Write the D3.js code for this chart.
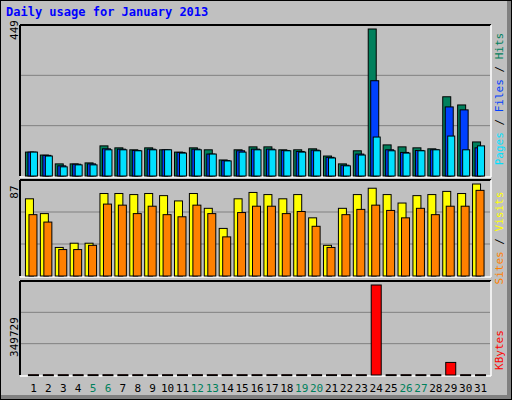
<!DOCTYPE html>
<html><head><meta charset="utf-8">
<script src="https://cdn.jsdelivr.net/npm/d3@7"></script>
<style>body{margin:0;background:#fff}svg{display:block}text{font-family:"DejaVu Sans Mono",monospace}</style>
</head><body>
<script>
const days = d3.range(1,32);
const weekend = [5,6,12,13,19,20,26,27];
const hits  = [73,64,37,37,40,92,86,80,86,80,73,86,80,49,80,89,89,80,80,83,61,37,77,449,95,89,86,83,242,217,104];
const files = [73,63,31,36,37,83,82,78,82,80,72,82,67,47,77,82,82,78,75,79,57,33,67,291,80,72,78,80,211,202,86];
const pages = [73,61,28,34,34,80,80,77,80,80,70,80,67,46,73,80,80,77,73,77,55,31,64,119,77,70,77,80,122,80,92];
const visits= [73,59,27,31,31,78,78,77,78,76,71,78,64,45,73,79,77,73,77,55,29,64,77,83,77,69,76,77,80,78,87];
const sites = [58,51,25,25,29,68,67,59,66,58,56,67,59,37,60,66,66,59,61,47,27,58,63,67,62,55,64,58,66,66,81];
const kbytes= [1200,1200,1200,1200,1200,1200,1200,1200,1200,1200,1200,1200,1200,1200,1200,1200,1200,1200,1200,1200,1200,1200,1200,349729,1200,1200,1200,1200,48860,1200,1200];
const maxLabels = ["449","87","349729"];

const W=512,H=400;
const svg=d3.select("body").append("svg").attr("width",W).attr("height",H);
svg.append("rect").attr("width",W).attr("height",H).attr("fill","#c0c0c0");
svg.append("rect").attr("x",507).attr("y",0).attr("width",5).attr("height",H).attr("fill","#808080");
svg.append("rect").attr("x",0).attr("y",395).attr("width",W).attr("height",5).attr("fill","#808080");
svg.append("rect").attr("x",0.5).attr("y",0.5).attr("width",W-1).attr("height",H-1).attr("fill","none").attr("stroke","#000");
svg.append("text").attr("x",6).attr("y",16).attr("fill","#0000ff").attr("font-weight","bold").attr("font-size",12).text("Daily usage for January 2013");

const x=d3.scaleBand().domain(days).range([26,488]);
const cx=d=>x(d)+x.bandwidth()/2;

function panel(y0,y1,max){
  svg.append("line").attr("x1",20).attr("x2",491).attr("y1",y0).attr("y2",y0).attr("stroke","#000").attr("stroke-width",2);
  svg.append("line").attr("x1",20).attr("x2",20).attr("y1",y0).attr("y2",y1).attr("stroke","#000").attr("stroke-width",2);
  svg.append("line").attr("x1",20).attr("x2",491).attr("y1",y1+1).attr("y2",y1+1).attr("stroke","#fff").attr("stroke-width",1.5);
  svg.append("line").attr("x1",491).attr("x2",491).attr("y1",y0).attr("y2",y1+1).attr("stroke","#fff").attr("stroke-width",1.5);
  const y=d3.scaleLinear().domain([0,max]).range([y1,y0+4]);
  const gy=d3.scaleLinear().domain([0,3]).range([y1,y0]);
  [1,2].forEach(k=>svg.append("line").attr("x1",21).attr("x2",490).attr("y1",gy(k)).attr("y2",gy(k)).attr("stroke","#808080"));
  return y;
}
function bars(y,vals,dx,w,color){
  svg.append("g").selectAll("rect").data(days).join("rect")
    .attr("x",d=>cx(d)+dx).attr("width",w)
    .attr("y",(d,i)=>y(vals[i])).attr("height",(d,i)=>Math.max(1,y(0)-y(vals[i])))
    .attr("fill",color).attr("stroke","#000").attr("stroke-width",1);
}
const y1=panel(25,176,449);
bars(y1,hits,-8,8,"#00805c");
bars(y1,files,-5.5,8,"#0040ff");
bars(y1,pages,-3,7,"#00e0ff");
const y2=panel(180,276,87);
bars(y2,visits,-8,8,"#ffff00");
bars(y2,sites,-4.5,8,"#ff8000");
const y3=panel(281,375,349729);
bars(y3,kbytes,-5,10,"#ff0000");

[[30,0],[192,1],[337,2]].forEach(([yy,i])=>{
  svg.append("text").attr("transform",`translate(18,${yy}) rotate(-90)`).attr("text-anchor","middle").attr("font-size",11).text(maxLabels[i]);
});
function rlabel(yc,parts){
  const t=svg.append("text").attr("transform",`translate(503,${yc}) rotate(-90)`).attr("text-anchor","middle").attr("font-size",11);
  parts.forEach(([s,c])=>t.append("tspan").attr("fill",c).text(s));
}
rlabel(99,[["Pages","#00e0ff"],[" / ","#000"],["Files","#0040ff"],[" / ","#000"],["Hits","#00805c"]]);
rlabel(238,[["Sites","#ff8000"],[" / ","#000"],["Visits","#ffff00"]]);
rlabel(350,[["KBytes","#ff0000"]]);

svg.append("g").selectAll("text").data(days).join("text")
  .attr("x",d=>cx(d)).attr("y",392).attr("text-anchor","middle").attr("font-size",11)
  .attr("fill",d=>weekend.includes(d)?"#00805c":"#000").text(d=>d);
</script>
</body></html>
